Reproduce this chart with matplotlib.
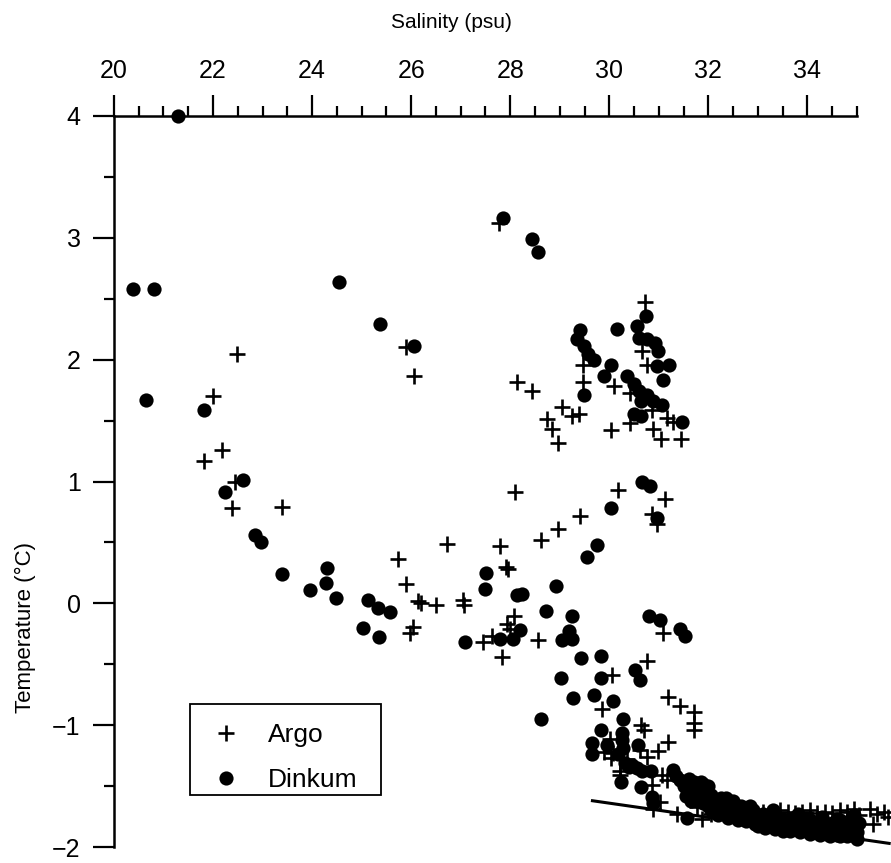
import matplotlib
matplotlib.use("Agg")
import matplotlib.pyplot as plt
from matplotlib.patches import Rectangle
from matplotlib.lines import Line2D

plt.rcParams['font.family'] = ['Liberation Sans', 'DejaVu Sans']

# ---------------- data (salinity psu, temperature degC) ----------------
argo_sal = [
    22.48, 22.00, 22.18, 21.82, 22.44, 22.38, 23.39, 25.74, 25.90, 26.14,
    26.20, 26.50, 26.04, 25.98, 26.73, 25.90, 26.06, 27.78, 30.73, 29.47,
    29.47, 30.10, 30.67, 30.77, 30.42, 30.87, 30.42, 31.17, 31.29, 30.04,
    30.89, 31.05, 31.45, 28.14, 28.44, 29.05, 29.25, 29.39, 28.75, 28.85,
    28.97, 28.10, 30.18, 31.13, 29.41, 30.87, 30.97, 28.97, 28.63, 27.80,
    27.96, 27.92, 27.05, 27.07, 28.08, 27.94, 28.00, 27.64, 27.45, 28.57,
    27.84,
    30.06, 30.77, 31.09, 29.86, 31.19, 31.43, 31.70, 31.70, 31.70, 30.65,
    30.71, 31.19, 30.99, 30.02, 30.08, 30.04, 30.61, 30.77, 30.36, 30.22,
    30.22, 31.03, 30.89, 31.37, 31.88, 31.78, 31.07, 31.17, 30.87, 29.90,
    32.30, 32.44, 32.60, 32.90, 33.10, 33.30, 33.45, 33.60, 33.75, 33.90,
    34.05, 34.20, 34.35, 34.50, 34.65, 34.80, 34.95, 35.27, 35.41, 35.33,
    35.54, 35.62, 32.05, 32.75, 33.20, 33.55, 34.10, 34.60, 35.05, 32.15,
]
argo_temp = [
    2.05, 1.70, 1.26, 1.17, 1.00, 0.78, 0.79, 0.36, 0.16, 0.02,
    0.00, -0.01, -0.19, -0.24, 0.49, 2.10, 1.87, 3.12, 2.47, 1.96,
    1.82, 1.78, 2.07, 1.96, 1.73, 1.59, 1.48, 1.52, 1.49, 1.42,
    1.43, 1.35, 1.35, 1.82, 1.74, 1.61, 1.54, 1.55, 1.51, 1.43,
    1.32, 0.91, 0.93, 0.86, 0.72, 0.73, 0.65, 0.61, 0.52, 0.47,
    0.28, 0.30, 0.03, -0.01, -0.10, -0.17, -0.21, -0.27, -0.32, -0.30,
    -0.44,
    -0.59, -0.47, -0.24, -0.87, -0.77, -0.84, -0.89, -0.98, -1.04, -1.00,
    -1.04, -1.14, -1.21, -1.11, -1.23, -1.27, -1.20, -1.26, -1.28, -1.38,
    -1.41, -1.63, -1.69, -1.73, -1.77, -1.67, -1.41, -1.45, -1.49, -1.22,
    -1.64, -1.63, -1.70, -1.72, -1.71, -1.72, -1.70, -1.71, -1.72, -1.71,
    -1.70, -1.72, -1.71, -1.72, -1.70, -1.71, -1.69, -1.69, -1.73, -1.81,
    -1.71, -1.75, -1.73, -1.76, -1.78, -1.79, -1.77, -1.80, -1.74, -1.68,
]

dinkum_sal = [
    21.29, 20.38, 20.81, 20.65, 24.55, 25.37, 26.06, 27.85, 28.44, 28.57,
    21.82, 22.61, 22.24, 22.85, 22.97, 23.39, 24.30, 24.28, 23.96, 24.48,
    25.13, 25.33, 25.58, 25.03, 25.35,
    30.75, 30.55, 30.16, 29.41, 29.35, 29.48, 29.58, 29.70, 29.49, 30.04,
    29.90, 30.36, 30.59, 30.77, 30.93, 30.99, 30.97, 31.21, 31.09, 30.49,
    30.59, 30.77, 30.89, 31.07, 30.65, 30.49, 30.63, 31.47,
    30.67, 30.83, 30.04, 30.97, 29.76, 29.54, 27.52, 27.49, 28.14, 28.24,
    28.93, 28.73, 29.25, 30.81, 28.20, 29.19, 29.25, 29.05, 27.09, 27.80,
    28.06,
    29.43, 29.84, 29.03, 29.84, 30.51, 30.61, 31.03, 31.43, 31.52, 29.27,
    29.70, 30.08, 28.63, 30.28, 29.84, 30.26, 29.66, 29.66, 29.96, 30.26,
    30.57, 30.28, 30.18, 30.46, 30.67, 30.85, 30.24, 30.63, 30.87, 30.89,
    31.29, 31.43, 31.70, 31.90, 31.56, 30.32, 30.40, 30.56,
    31.60, 31.80, 32.00, 32.10, 32.30, 32.40, 32.50, 32.60, 32.70, 32.80,
    32.90, 33.00, 33.10, 33.20, 33.30, 33.40, 33.50, 33.60, 33.70, 33.80,
    33.90, 34.00, 34.10, 34.20, 34.30, 34.40, 34.50, 34.60, 34.70, 34.80,
    34.90, 35.00, 34.95, 32.20, 32.60, 33.00, 33.50, 34.00, 34.50, 31.90,
    32.05, 33.30, 33.80, 34.30, 34.80, 35.00, 32.35, 32.85, 33.65, 34.15,
    34.65, 31.70, 32.25,
    31.55, 31.65, 31.75, 31.85, 31.95, 32.05, 32.15, 32.25, 32.35, 32.45,
    32.55, 32.65, 32.75, 32.85, 32.95, 33.05, 33.15, 33.25, 33.35, 33.45,
    33.55, 33.65, 33.75, 33.85, 33.95, 34.05, 34.15, 34.25, 34.35, 34.45,
    34.55, 34.65, 34.75, 34.85, 34.90, 35.05, 33.10, 33.40, 33.70, 34.00,
    34.30, 34.60, 34.90, 32.00, 32.40, 31.35, 31.50, 31.60, 31.75, 31.85,
    32.00,
]
dinkum_temp = [
    4.00, 2.58, 2.58, 1.67, 2.64, 2.29, 2.11, 3.16, 2.99, 2.88,
    1.59, 1.01, 0.91, 0.56, 0.50, 0.24, 0.29, 0.17, 0.11, 0.04,
    0.03, -0.04, -0.07, -0.20, -0.28,
    2.36, 2.28, 2.25, 2.24, 2.17, 2.11, 2.05, 2.00, 1.71, 1.96,
    1.87, 1.87, 2.18, 2.17, 2.14, 2.07, 1.95, 1.96, 1.83, 1.80,
    1.74, 1.71, 1.66, 1.63, 1.66, 1.55, 1.54, 1.49,
    1.00, 0.96, 0.78, 0.70, 0.48, 0.38, 0.25, 0.12, 0.07, 0.08,
    0.14, -0.06, -0.10, -0.10, -0.22, -0.23, -0.29, -0.30, -0.32, -0.29,
    -0.29,
    -0.45, -0.43, -0.61, -0.61, -0.55, -0.63, -0.14, -0.21, -0.27, -0.78,
    -0.75, -0.80, -0.95, -0.95, -1.04, -1.06, -1.15, -1.24, -1.16, -1.12,
    -1.16, -1.19, -1.24, -1.33, -1.38, -1.38, -1.47, -1.51, -1.59, -1.64,
    -1.37, -1.45, -1.47, -1.48, -1.76, -1.31, -1.34, -1.35,
    -1.52, -1.55, -1.58, -1.62, -1.66, -1.70, -1.62, -1.72, -1.68, -1.75,
    -1.70, -1.78, -1.73, -1.80, -1.75, -1.82, -1.77, -1.84, -1.78, -1.86,
    -1.80, -1.87, -1.79, -1.88, -1.82, -1.89, -1.80, -1.90, -1.83, -1.91,
    -1.78, -1.88, -1.74, -1.74, -1.78, -1.83, -1.87, -1.83, -1.86, -1.64,
    -1.70, -1.70, -1.73, -1.75, -1.86, -1.93, -1.60, -1.66, -1.80, -1.84,
    -1.78, -1.60, -1.68,
    -1.58, -1.62, -1.50, -1.60, -1.53, -1.57, -1.67, -1.60, -1.72, -1.65,
    -1.75, -1.66, -1.79, -1.72, -1.81, -1.76, -1.84, -1.78, -1.85, -1.79,
    -1.82, -1.87, -1.82, -1.88, -1.84, -1.89, -1.86, -1.90, -1.85, -1.91,
    -1.84, -1.91, -1.88, -1.83, -1.90, -1.80, -1.77, -1.76, -1.76, -1.77,
    -1.78, -1.77, -1.75, -1.66, -1.76, -1.42, -1.50, -1.44, -1.52, -1.47,
    -1.50,
]

# freezing-point line end points
freeze_sal = [29.66, 35.65]
freeze_temp = [-1.62, -1.97]

x_major = [20, 22, 24, 26, 28, 30, 32, 34]
y_major = [-2, -1, 0, 1, 2, 3, 4]

# ---------------- figure ----------------
fig = plt.figure(figsize=(8.91, 8.63), dpi=100)
ax = fig.add_axes([0.1279, 0.0185, 0.8339, 0.8471])

ax.plot(freeze_sal, freeze_temp, color='black', lw=2.2, clip_on=False, zorder=2)
ax.scatter(dinkum_sal, dinkum_temp, s=105, marker='o', color='black',
           linewidths=0, clip_on=False, zorder=3)
ax.plot(argo_sal, argo_temp, linestyle='none', marker='+', ms=11, mew=1.9,
        color='black', clip_on=False, zorder=4)

ax.set_xlim(20, 35)
ax.set_ylim(-2, 4)

ax.spines['bottom'].set_visible(False)
ax.spines['right'].set_visible(False)
ax.spines['top'].set_linewidth(1.8)
ax.spines['left'].set_linewidth(1.8)

ax.xaxis.tick_top()
ax.xaxis.set_label_position('top')
ax.set_xticks(x_major)
ax.set_xticks([v / 2 for v in range(41, 71) if v % 4 != 0], minor=True)
ax.set_yticks(y_major)
ax.set_yticks([-1.5, -0.5, 0.5, 1.5, 2.5, 3.5], minor=True)

ax.tick_params(axis='both', which='major', direction='out', length=15,
               width=1.6, labelsize=18, color='black')
ax.tick_params(axis='both', which='minor', direction='out', length=7,
               width=1.6, color='black')
ax.tick_params(axis='x', which='major', pad=9)
ax.tick_params(axis='y', which='major', pad=9)

ax.set_yticklabels(['\u22122', '\u22121', '0', '1', '2', '3', '4'])

ax.set_xlabel('Salinity (psu)', fontsize=15)
ax.xaxis.set_label_coords(0.454, 1.12)
ax.set_ylabel('Temperature (\u00b0C)', fontsize=16)
ax.yaxis.set_label_coords(-0.105, 0.30)

# legend
box = Rectangle((0.102, 0.071), 0.257, 0.125, transform=ax.transAxes,
                facecolor='white', edgecolor='black', lw=1.3, zorder=5)
ax.add_patch(box)
h_argo = Line2D([], [], linestyle='none', marker='+', ms=11, mew=1.9, color='black')
h_dink = Line2D([], [], linestyle='none', marker='o', ms=10.2, mew=0, color='black')
leg = ax.legend([h_argo, h_dink], ['Argo', 'Dinkum'], loc='center left',
                bbox_to_anchor=(0.133, 0.122), frameon=False, fontsize=19,
                handlelength=1.0, handletextpad=1.1, labelspacing=0.8,
                borderpad=0, borderaxespad=0)
leg.set_zorder(6)

fig.savefig('out.png', dpi=100)
